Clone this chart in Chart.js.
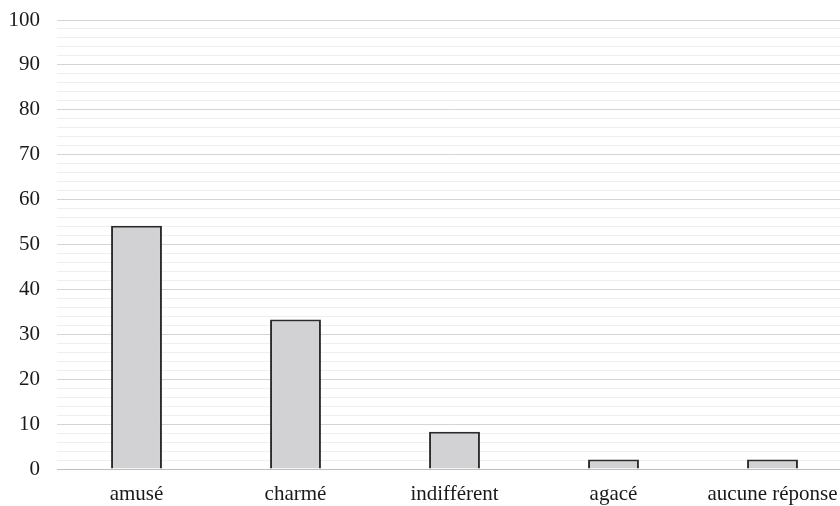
<!DOCTYPE html>
<html>
<head>
<meta charset="utf-8">
<script src="https://cdn.jsdelivr.net/npm/chart.js@4/dist/chart.umd.min.js"></script>
<style>
  html, body { margin: 0; padding: 0; background: #ffffff; overflow: hidden; }
  #wrap { width: 840px; height: 506px; overflow: hidden; }
</style>
</head>
<body>
<div id="wrap"><canvas id="c" width="852" height="506"></canvas></div>
<script>
// Réactions des répondants (%)
const categories = ['amusé', 'charmé', 'indifférent', 'agacé', 'aucune réponse'];
const percentages = [54.2, 33.3, 8.3, 2.1, 2.1];
const yTickLabels = [0, 10, 20, 30, 40, 50, 60, 70, 80, 90, 100];

const serif = '"Liberation Serif", "Times New Roman", serif';

new Chart(document.getElementById('c'), {
  type: 'bar',
  data: {
    labels: categories,
    datasets: [{
      data: percentages,
      backgroundColor: '#d2d2d4',
      borderColor: '#2b2b2b',
      borderWidth: 2,
      categoryPercentage: 1,
      barPercentage: 0.32
    }]
  },
  options: {
    responsive: false,
    animation: false,
    layout: { padding: { top: 20, right: 0, bottom: 0, left: 0 } },
    plugins: { legend: { display: false }, tooltip: { enabled: false } },
    scales: {
      x: {
        grid: { display: false, drawTicks: false },
        border: { color: '#bdbdbd', width: 1 },
        ticks: { color: '#1a1a1a', font: { family: serif, size: 21 }, padding: 13, maxRotation: 0 },
        afterFit: s => { s.height = 37; }
      },
      y: {
        min: 0,
        max: 100,
        grid: {
          drawTicks: false,
          color: ctx => (ctx.tick && ctx.tick.value % 10 === 0) ? '#d4d4d4' : '#efefef',
          lineWidth: 1
        },
        border: { display: false },
        ticks: {
          stepSize: 2,
          autoSkip: false,
          color: '#1a1a1a',
          font: { family: serif, size: 21, lineHeight: 1 },
          padding: 17,
          callback: v => yTickLabels.includes(v) ? String(v) : ''
        },
        afterFit: s => { s.width = 57; s.paddingTop = 0; }
      }
    }
  }
});
</script>
</body>
</html>
